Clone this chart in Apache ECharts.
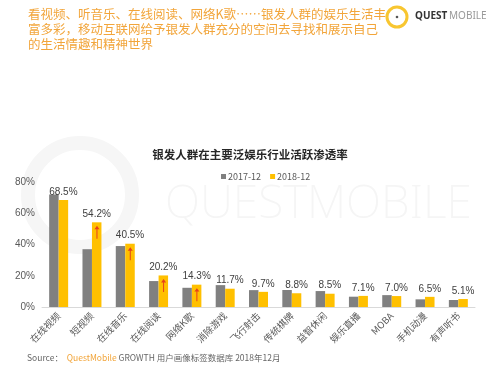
<!DOCTYPE html>
<html><head><meta charset="utf-8">
<script src="https://cdn.jsdelivr.net/npm/echarts@6/dist/echarts.min.js"></script>
<style>html,body{margin:0;padding:0;background:#fff}#c{width:500px;height:371px}</style>
</head><body><div id="c"></div>
<script>
var categories = ['在线视频','短视频','在线音乐','在线阅读','网络K歌','消除游戏','飞行射击','传统棋牌','益智休闲','娱乐直播','MOBA','手机动漫','有声听书'];
var values2017 = [72, 37, 39, 16.6, 12.3, 14, 10.8, 10.9, 10.2, 6.6, 7.6, 4.9, 4.5];
var values2018 = [68.5, 54.2, 40.5, 20.2, 14.3, 11.7, 9.7, 8.8, 8.5, 7.1, 7.0, 6.5, 5.1];
var arrowFlags = [0, 1, 1, 1, 1, 0, 0, 0, 0, 0, 0, 0, 0];
var yTicks = [0, 20, 40, 60, 80];
var headerLines = ['看视频、听音乐、在线阅读、网络K歌……银发人群的娱乐生活丰','富多彩，移动互联网给予银发人群充分的空间去寻找和展示自己','的生活情趣和精神世界'];

var font = '"Noto Sans CJK SC", "Noto Sans", sans-serif';
var chart = echarts.init(document.getElementById('c'));
var arrowData = values2018.map(function(v, i){ return arrowFlags[i] ? v : '-'; });
var graphics = headerLines.map(function(t, i){
  return {type:'text', left:28, top:8 + i*15, style:{text:t, fill:'#F2A53A', font:'12.5px ' + font}};
});
graphics.push(
  {type:'circle', shape:{cx:80, cy:195, r:52}, style:{fill:'none', stroke:'#f6f6f6', lineWidth:14}, z:-10},
  {type:'text', left:165, top:182, style:{text:'QUESTMOBILE', fill:'#f5f5f5', font:'200 46px "Noto Sans", sans-serif'}, z:-10},
  {type:'circle', shape:{cx:397, cy:17, r:10}, style:{fill:'none', stroke:'#F8C630', lineWidth:3}},
  {type:'circle', shape:{cx:397, cy:17, r:1.3}, style:{fill:'#555'}},
  {type:'text', left:415, top:11, style:{text:'QUEST', fill:'#333', font:'bold 10px "Noto Sans", sans-serif'}},
  {type:'text', left:449, top:11, style:{text:'MOBILE', fill:'#999', font:'10px "Noto Sans", sans-serif'}},
  {type:'text', left:27, top:354, style:{rich:{a:{fill:'#666', font:'8.5px ' + font}, b:{fill:'#F2A53A', font:'8.5px ' + font}}, text:'{a|Source：  }{b|QuestMobile}{a| GROWTH 用户画像标签数据库 2018年12月}'}}
);

chart.setOption({
  animation:false,
  title:{text:'银发人群在主要泛娱乐行业活跃渗透率', left:'center', top:144, textStyle:{fontSize:11.5, fontWeight:'bold', color:'#262626', fontFamily:font}},
  legend:{top:167, left:216, itemWidth:5, itemHeight:5, itemGap:9, icon:'rect', textStyle:{fontSize:9, color:'#595959', fontFamily:font, padding:[0,0,0,-3]}, data:['2017-12','2018-12']},
  grid:{left:42, right:25, top:182, bottom:64},
  xAxis:{type:'category', data:categories, axisTick:{show:false}, axisLine:{lineStyle:{color:'#d9d9d9'}},
    axisLabel:{rotate:45, fontSize:9.5, color:'#595959', fontFamily:font, margin:7}},
  yAxis:{type:'value', min:yTicks[0], max:yTicks[yTicks.length-1], interval:20, splitLine:{show:false}, axisLine:{show:false}, axisTick:{show:false},
    axisLabel:{formatter:'{value}%', fontSize:10, color:'#595959', margin:7}},
  graphic:graphics,
  series:[
    {name:'2017-12', type:'bar', data:values2017, barWidth:'28.5%', barGap:'0%', itemStyle:{color:'#808080'}},
    {name:'2018-12', type:'bar', data:values2018, barWidth:'28.5%', itemStyle:{color:'#FFC000'},
      label:{show:true, position:'top', fontSize:10, color:'#404040', distance:3,
        formatter:function(p){ return p.value.toFixed(1) + '%'; }}},
    {name:'arrow', type:'scatter', data:arrowData, symbol:'path://M5,0 L10,8 L6,8 L6,30 L4,30 L4,8 L0,8 Z', symbolSize:[5,13], symbolOffset:[5,10], itemStyle:{color:'#E02020'}, z:5, silent:true}
  ]
});
</script></body></html>
